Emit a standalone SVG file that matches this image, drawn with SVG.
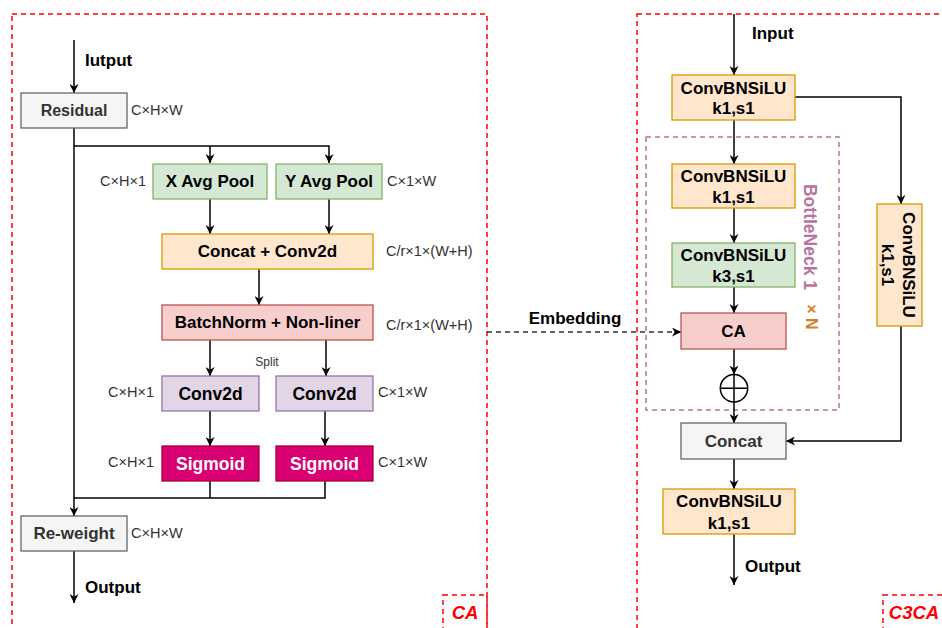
<svg xmlns="http://www.w3.org/2000/svg" width="942" height="628" viewBox="0 0 942 628">
<style>
text{font-family:"Liberation Sans",Arial,sans-serif;dominant-baseline:central}
.b{font-weight:bold;font-size:17px;text-anchor:middle;fill:#000}
.g{fill:#333}
.dim{font-size:14.5px;fill:#333}
.red{fill:none;stroke:#ff0000;stroke-width:1.5;stroke-dasharray:5,4}
.lbl{font-weight:bold;font-style:italic;font-size:18.5px;fill:#ff0000;text-anchor:middle}
.grey{fill:#f5f5f5;stroke:#666;stroke-width:1.3}
.green{fill:#d5e8d4;stroke:#82b366;stroke-width:1.3}
.orange{fill:#ffe6cc;stroke:#d79b00;stroke-width:1.3}
.pink{fill:#f8cecc;stroke:#b85450;stroke-width:1.3}
.purple{fill:#e1d5e7;stroke:#9673a6;stroke-width:1.3}
.mag{fill:#d80073;stroke:#a50040;stroke-width:1.3}
.c path{fill:none;stroke:#000;stroke-width:1.5}
.c path.arr{marker-end:url(#ah)}
</style>
<defs>
<marker id="ah" viewBox="0 0 10 10" refX="10" refY="5" markerWidth="9" markerHeight="9" markerUnits="userSpaceOnUse" orient="auto">
<path d="M0,0 L10,5 L0,10 L3,5 z" fill="#000"/>
</marker>
</defs>
<rect width="942" height="628" fill="#fff"/>

<g id="frame-ca">
<rect class="red" x="12" y="14" width="475" height="640"/>
<rect class="red" x="443" y="595" width="44" height="60"/>
<text class="lbl" x="465" y="612">CA</text>
</g>
<g id="frame-c3ca">
<rect class="red" x="637" y="14" width="320" height="640"/>
<rect class="red" x="883" y="595" width="80" height="60"/>
<text class="lbl" x="914" y="612">C3CA</text>
</g>
<g id="bottleneck">
<rect x="646" y="137" width="193" height="273" fill="none" stroke="#b5739d" stroke-width="1.5" stroke-dasharray="5,4"/>
<text transform="rotate(90 810 237)" x="810" y="237" style="font-weight:bold;font-size:17.5px;fill:#b5739d;text-anchor:middle">BottleNeck 1</text>
<text transform="rotate(90 811 317)" x="811" y="317" style="font-weight:bold;font-size:16px;fill:#d4802a;text-anchor:middle">× N</text>
</g>

<g class="c" id="connectors">
<path class="arr" d="M74,40 V93"/>
<path class="arr" d="M74,128 V516"/>
<path class="arr" d="M74,146 H329 V163"/>
<path class="arr" d="M210,146 V163"/>
<path class="arr" d="M210,199 V234"/>
<path class="arr" d="M329,199 V234"/>
<path class="arr" d="M259,269 V305"/>
<path class="arr" d="M210,340 V376"/>
<path class="arr" d="M326,340 V376"/>
<path class="arr" d="M210,411 V446"/>
<path class="arr" d="M325,411 V446"/>
<path d="M210,481 V498"/>
<path d="M325,481 V498 H74"/>
<path class="arr" d="M74,551 V603"/>
<path class="arr" d="M734,14 V75"/>
<path class="arr" d="M734,120 V164"/>
<path class="arr" d="M734,208 V243"/>
<path class="arr" d="M734,287 V313"/>
<path class="arr" d="M734,349 V374.5"/>
<path class="arr" d="M734,402 V423"/>
<path class="arr" d="M795,97 H901 V204"/>
<path class="arr" d="M901,326 V441 H786"/>
<path class="arr" d="M734,459 V489"/>
<path class="arr" d="M734,534 V585"/>
<path class="arr" d="M487,332 H681" style="stroke:#333;stroke-dasharray:5,4"/>
</g>

<g id="labels">
<text class="b" x="85" y="60" style="text-anchor:start">Iutput</text>
<text class="b" x="85" y="587" style="text-anchor:start">Output</text>
<text class="b" x="752" y="33" style="text-anchor:start">Input</text>
<text class="b" x="745" y="566" style="text-anchor:start">Output</text>
<text class="b" x="575" y="318">Embedding</text>
<text x="267" y="362" style="font-size:12px;fill:#333;text-anchor:middle">Split</text>
<text class="dim" x="131" y="110">C×H×W</text>
<text class="dim" x="131" y="533">C×H×W</text>
<text class="dim" x="146" y="181" style="text-anchor:end">C×H×1</text>
<text class="dim" x="387" y="181">C×1×W</text>
<text class="dim" x="386" y="251">C/r×1×(W+H)</text>
<text class="dim" x="386" y="325">C/r×1×(W+H)</text>
<text class="dim" x="154" y="392" style="text-anchor:end">C×H×1</text>
<text class="dim" x="378" y="392">C×1×W</text>
<text class="dim" x="154" y="462" style="text-anchor:end">C×H×1</text>
<text class="dim" x="378" y="462">C×1×W</text>
</g>

<g id="residual"><rect class="grey" x="21" y="93" width="106" height="35"/><text class="b g" x="74" y="110.5" style="font-size:16px">Residual</text></g>
<g id="xpool"><rect class="green" x="153" y="164" width="114" height="35"/><text class="b" x="210" y="181.5">X Avg Pool</text></g>
<g id="ypool"><rect class="green" x="276" y="164" width="106" height="35"/><text class="b" x="329" y="181.5">Y Avg Pool</text></g>
<g id="concat-conv"><rect class="orange" x="162" y="234" width="211" height="35"/><text class="b" x="267.5" y="251.5">Concat + Conv2d</text></g>
<g id="bn"><rect class="pink" x="162" y="305" width="211" height="35"/><text class="b" x="267.5" y="322.5">BatchNorm + Non-liner</text></g>
<g id="conv-l"><rect class="purple" x="162" y="376" width="97" height="35"/><text class="b" x="210.5" y="393.5" style="font-size:17.5px">Conv2d</text></g>
<g id="conv-r"><rect class="purple" x="276" y="376" width="97" height="35"/><text class="b" x="324.5" y="393.5" style="font-size:17.5px">Conv2d</text></g>
<g id="sig-l"><rect class="mag" x="162" y="446" width="97" height="35"/><text class="b" x="210.5" y="463.5" style="font-size:17.5px;fill:#fff">Sigmoid</text></g>
<g id="sig-r"><rect class="mag" x="276" y="446" width="97" height="35"/><text class="b" x="324.5" y="463.5" style="font-size:17.5px;fill:#fff">Sigmoid</text></g>
<g id="reweight"><rect class="grey" x="21" y="516" width="106" height="35"/><text class="b g" x="74" y="533.5">Re-weight</text></g>

<g id="cbs1"><rect class="orange" x="672" y="75" width="123" height="45"/><text class="b" x="733.5" y="88">ConvBNSiLU</text><text class="b" x="733.5" y="108">k1,s1</text></g>
<g id="cbs2"><rect class="orange" x="672" y="164" width="123" height="44"/><text class="b" x="733.5" y="176.5">ConvBNSiLU</text><text class="b" x="733.5" y="197">k1,s1</text></g>
<g id="cbs3"><rect class="green" x="672" y="243" width="123" height="44"/><text class="b" x="733.5" y="255.5">ConvBNSiLU</text><text class="b" x="733.5" y="276.5">k3,s1</text></g>
<g id="ca"><rect class="pink" x="681" y="313" width="105" height="36"/><text class="b" x="733.5" y="331">CA</text></g>
<g id="add"><circle cx="734" cy="388.3" r="13.7" fill="#fff" stroke="#000" stroke-width="1.5"/><path d="M720.3,388.3 H747.7 M734,374.6 V402" stroke="#000" stroke-width="1.5"/></g>
<g id="concat"><rect class="grey" x="681" y="423" width="105" height="36"/><text class="b g" x="733.5" y="441">Concat</text></g>
<g id="cbs-out"><rect class="orange" x="663" y="489" width="132" height="45"/><text class="b" x="729" y="501.5">ConvBNSiLU</text><text class="b" x="729" y="523">k1,s1</text></g>
<g id="cbs-side"><rect class="orange" x="877" y="204" width="45" height="122"/>
<text class="b" transform="rotate(90 908 265)" x="908" y="265">ConvBNSiLU</text>
<text class="b" transform="rotate(90 887 265)" x="887" y="265">k1,s1</text></g>
</svg>
